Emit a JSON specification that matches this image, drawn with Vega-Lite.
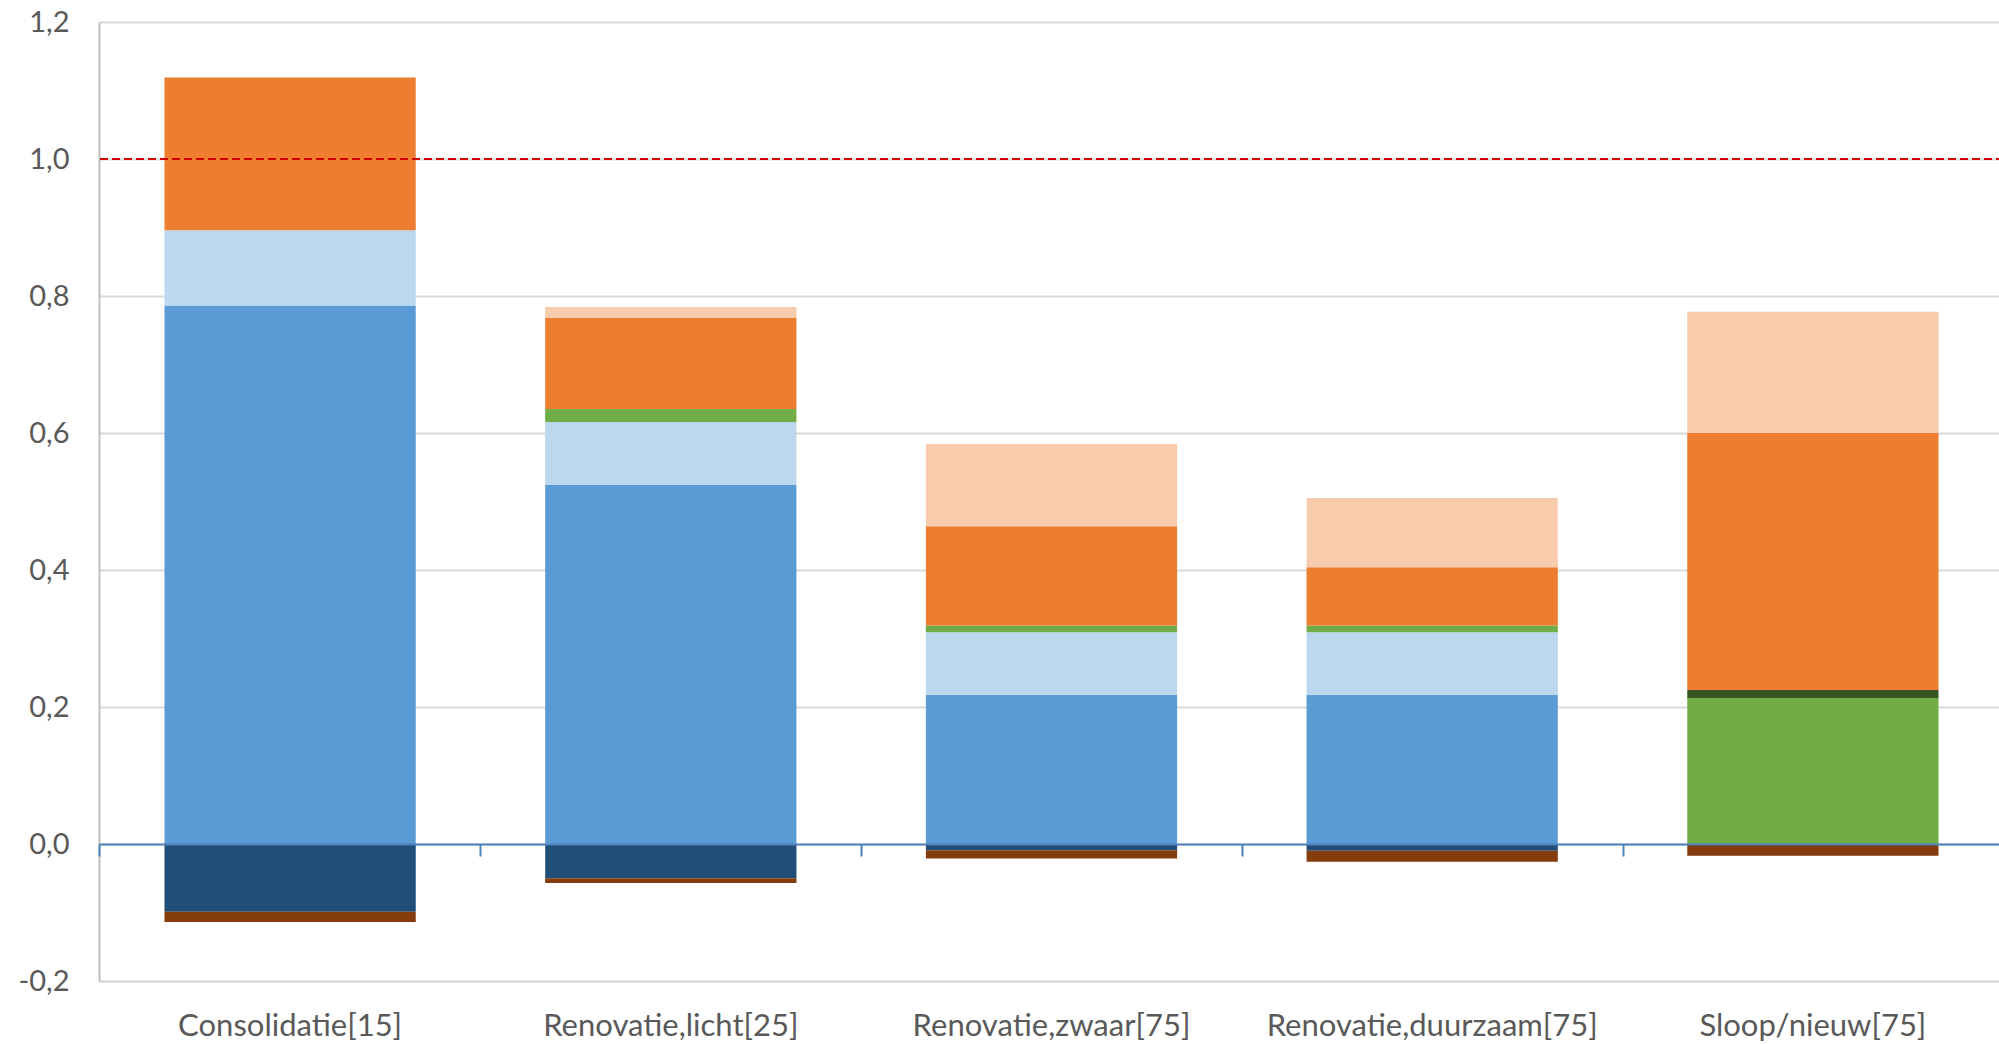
{
  "$schema": "https://vega.github.io/schema/vega-lite/v6.json",
  "width": 1905,
  "height": 959,
  "autosize": {"type": "none"},
  "padding": {"left": 99, "top": 22, "right": 0, "bottom": 63},
  "background": "white",
  "config": {"view": {"stroke": null}, "font": "Lato"},
  "datasets": {
    "bars": [
      {"cat": "Consolidatie[15]", "serie": "A", "ord": 0, "value": -0.099},
      {"cat": "Consolidatie[15]", "serie": "B", "ord": 1, "value": -0.015},
      {"cat": "Consolidatie[15]", "serie": "C", "ord": 2, "value": 0.786},
      {"cat": "Consolidatie[15]", "serie": "D", "ord": 3, "value": 0.110},
      {"cat": "Consolidatie[15]", "serie": "G", "ord": 6, "value": 0.223},
      {"cat": "Renovatie,licht[25]", "serie": "A", "ord": 0, "value": -0.050},
      {"cat": "Renovatie,licht[25]", "serie": "B", "ord": 1, "value": -0.007},
      {"cat": "Renovatie,licht[25]", "serie": "C", "ord": 2, "value": 0.524},
      {"cat": "Renovatie,licht[25]", "serie": "D", "ord": 3, "value": 0.092},
      {"cat": "Renovatie,licht[25]", "serie": "E", "ord": 4, "value": 0.019},
      {"cat": "Renovatie,licht[25]", "serie": "G", "ord": 6, "value": 0.133},
      {"cat": "Renovatie,licht[25]", "serie": "H", "ord": 7, "value": 0.016},
      {"cat": "Renovatie,zwaar[75]", "serie": "A", "ord": 0, "value": -0.009},
      {"cat": "Renovatie,zwaar[75]", "serie": "B", "ord": 1, "value": -0.012},
      {"cat": "Renovatie,zwaar[75]", "serie": "C", "ord": 2, "value": 0.218},
      {"cat": "Renovatie,zwaar[75]", "serie": "D", "ord": 3, "value": 0.091},
      {"cat": "Renovatie,zwaar[75]", "serie": "E", "ord": 4, "value": 0.010},
      {"cat": "Renovatie,zwaar[75]", "serie": "G", "ord": 6, "value": 0.145},
      {"cat": "Renovatie,zwaar[75]", "serie": "H", "ord": 7, "value": 0.120},
      {"cat": "Renovatie,duurzaam[75]", "serie": "A", "ord": 0, "value": -0.010},
      {"cat": "Renovatie,duurzaam[75]", "serie": "B", "ord": 1, "value": -0.016},
      {"cat": "Renovatie,duurzaam[75]", "serie": "C", "ord": 2, "value": 0.218},
      {"cat": "Renovatie,duurzaam[75]", "serie": "D", "ord": 3, "value": 0.091},
      {"cat": "Renovatie,duurzaam[75]", "serie": "E", "ord": 4, "value": 0.010},
      {"cat": "Renovatie,duurzaam[75]", "serie": "G", "ord": 6, "value": 0.085},
      {"cat": "Renovatie,duurzaam[75]", "serie": "H", "ord": 7, "value": 0.101},
      {"cat": "Sloop/nieuw[75]", "serie": "B", "ord": 1, "value": -0.017},
      {"cat": "Sloop/nieuw[75]", "serie": "E", "ord": 4, "value": 0.213},
      {"cat": "Sloop/nieuw[75]", "serie": "F", "ord": 5, "value": 0.012},
      {"cat": "Sloop/nieuw[75]", "serie": "G", "ord": 6, "value": 0.375},
      {"cat": "Sloop/nieuw[75]", "serie": "H", "ord": 7, "value": 0.177}
    ]
  },
  "data": {"name": "bars"},
  "layer": [
    {
      "mark": {"type": "bar"},
      "encoding": {
        "x": {
          "field": "cat", "type": "nominal", "sort": null,
          "scale": {"paddingInner": 0.34, "paddingOuter": 0.172},
          "axis": {
            "title": null, "labelAngle": 0, "ticks": false, "labelLimit": 0,
            "domainColor": "#D9D9D9", "domainWidth": 2,
            "labelFont": "Lato", "labelFontSize": 31, "labelColor": "#595959",
            "labelPadding": 30
          }
        },
        "y": {
          "field": "value", "type": "quantitative", "stack": "zero",
          "scale": {"domain": [-0.2, 1.2], "nice": false, "zero": false},
          "axis": {
            "title": null, "values": [-0.2, 0, 0.2, 0.4, 0.6, 0.8, 1.0, 1.2],
            "labelExpr": "replace(replace(format(datum.value, '.1f'), '.', ','), '\u2212', '-')",
            "ticks": false, "grid": true, "gridColor": "#D9D9D9", "gridWidth": 2,
            "domainColor": "#BFBFBF", "domainWidth": 2,
            "labelFont": "Lato", "labelFontSize": 29, "labelColor": "#595959",
            "labelPadding": 30
          }
        },
        "order": {"field": "ord", "type": "quantitative"},
        "color": {
          "field": "serie", "type": "nominal", "legend": null,
          "scale": {
            "domain": ["A", "B", "C", "D", "E", "F", "G", "H"],
            "range": ["#1F4E79", "#843C0C", "#5B9BD5", "#BDD7EE", "#70AD47", "#375623", "#ED7D31", "#F8CBAD"]
          }
        }
      }
    },
    {
      "mark": {"type": "point", "opacity": 0},
      "encoding": {
        "x": {
          "field": "cat", "type": "nominal", "sort": null,
          "scale": {"paddingInner": 0, "paddingOuter": 0},
          "axis": {
            "title": null, "labels": false, "orient": "bottom", "offset": -137,
            "tickBand": "extent", "ticks": true, "tickColor": "#4F81BD", "tickWidth": 2, "tickSize": 12,
            "domain": true, "domainColor": "#4F81BD", "domainWidth": 2, "zindex": 1
          }
        },
        "y": {"datum": 0, "type": "quantitative"}
      }
    },
    {
      "mark": {"type": "rule", "color": "#D00000", "strokeWidth": 2, "strokeDash": [8, 4]},
      "encoding": {"y": {"datum": 1.0, "type": "quantitative"}}
    }
  ],
  "resolve": {"axis": {"x": "independent"}, "scale": {"x": "independent"}}
}
